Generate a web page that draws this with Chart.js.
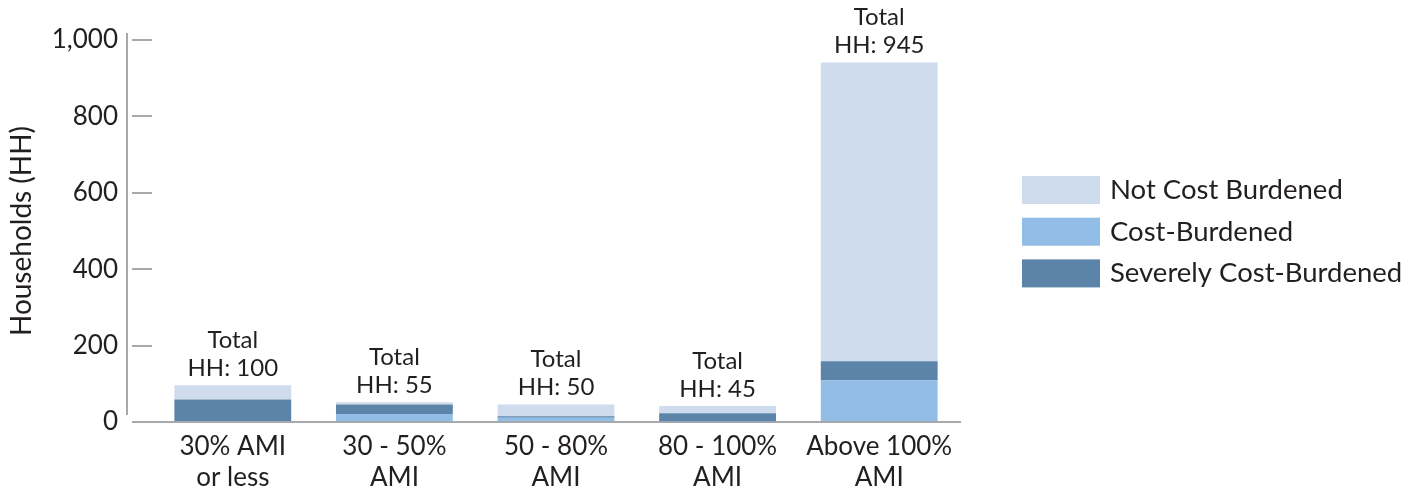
<!DOCTYPE html>
<html>
<head>
<meta charset="utf-8">
<script src="https://cdn.jsdelivr.net/npm/chart.js@4.4.1/dist/chart.umd.min.js"></script>
<style>
html, body { margin: 0; padding: 0; background: #fff; }
#wrap { width: 1424px; height: 490px; }
</style>
</head>
<body>
<div id="wrap"><canvas id="chart" width="1424" height="490"></canvas></div>
<script>
// data
const categories = [['30% AMI', 'or less'], ['30 - 50%', 'AMI'], ['50 - 80%', 'AMI'], ['80 - 100%', 'AMI'], ['Above 100%', 'AMI']];
const costBurdened = [0, 21, 11, 2, 109];
const severelyBurdened = [59, 25, 4, 21, 50];
const notBurdened = [37, 6, 31, 19, 782];
const totals = [100, 55, 50, 45, 945];
const yTicks = [0, 200, 400, 600, 800, 1000];
const legendOrder = ['Not Cost Burdened', 'Cost-Burdened', 'Severely Cost-Burdened'];

const textColor = '#231f20';
const axisGray = '#a7a9ac';

Chart.defaults.font.family = 'Lato';
Chart.defaults.color = textColor;

// short vertical axis line, drawn a bit left of the tick marks
const axisLine = {
    id: 'axisLine',
    afterDraw(chart) {
        const ctx = chart.ctx;
        const area = chart.chartArea;
        ctx.save();
        ctx.strokeStyle = axisGray;
        ctx.lineWidth = 2;
        ctx.beginPath();
        ctx.moveTo(area.left - 25, area.top - 7);
        ctx.lineTo(area.left - 25, area.bottom - 7);
        ctx.stroke();
        ctx.restore();
    }
};

// "Total / HH: n" above each bar
const totalLabels = {
    id: 'totalLabels',
    afterDatasetsDraw(chart) {
        const ctx = chart.ctx;
        const meta = chart.getDatasetMeta(2);
        ctx.save();
        ctx.font = '24px Lato';
        ctx.fillStyle = textColor;
        ctx.textAlign = 'center';
        ctx.textBaseline = 'middle';
        meta.data.forEach((bar, i) => {
            ctx.fillText('Total', bar.x, bar.y - 45);
            ctx.fillText('HH: ' + totals[i], bar.x, bar.y - 17);
        });
        ctx.restore();
    }
};

// legend on the right, listed in the reference order
const sideLegend = {
    id: 'sideLegend',
    afterDraw(chart) {
        const ctx = chart.ctx;
        const x = chart.chartArea.right + 62;
        let y = 176;
        ctx.save();
        ctx.font = '27.5px Lato';
        ctx.textBaseline = 'middle';
        ctx.textAlign = 'left';
        legendOrder.forEach(name => {
            const ds = chart.data.datasets.find(d => d.label === name);
            ctx.fillStyle = ds.backgroundColor;
            ctx.fillRect(x, y, 78, 28);
            ctx.fillStyle = textColor;
            ctx.fillText(name, x + 88, y + 14);
            y += 41.7;
        });
        ctx.restore();
    }
};

new Chart(document.getElementById('chart'), {
    type: 'bar',
    data: {
        labels: categories,
        datasets: [
            { label: 'Cost-Burdened', data: costBurdened, backgroundColor: '#92bde6' },
            { label: 'Severely Cost-Burdened', data: severelyBurdened, backgroundColor: '#5c84a8' },
            { label: 'Not Cost Burdened', data: notBurdened, backgroundColor: '#cfdcee' }
        ]
    },
    options: {
        responsive: false,
        animation: false,
        borderWidth: 0,
        barPercentage: 0.723,
        categoryPercentage: 1,
        layout: { padding: { top: 40, right: 464, bottom: 0, left: 0 } },
        plugins: {
            tooltip: { enabled: false },
            legend: { display: false }
        },
        scales: {
            x: {
                stacked: true,
                grid: { display: false, drawTicks: false },
                border: { color: axisGray, width: 2 },
                ticks: { font: { size: 26, lineHeight: 1.2 }, padding: 9, color: textColor, maxRotation: 0 },
                afterFit(scale) { scale.height = 68; }
            },
            y: {
                stacked: true,
                min: 0,
                max: 1000,
                afterBuildTicks(scale) { scale.ticks = yTicks.map(v => ({ value: v })); },
                grid: { drawOnChartArea: false, tickLength: 20, color: axisGray, lineWidth: 2 },
                border: { display: false },
                ticks: {
                    font: { size: 26 },
                    padding: 14,
                    color: textColor,
                    callback: v => v.toLocaleString('en-US')
                },
                title: { display: true, text: 'Households (HH)', font: { size: 28 }, padding: { top: 5, bottom: 0 }, color: textColor },
                afterFit(scale) { scale.width = 152; }
            }
        }
    },
    plugins: [axisLine, totalLabels, sideLegend]
});
</script>
</body>
</html>
